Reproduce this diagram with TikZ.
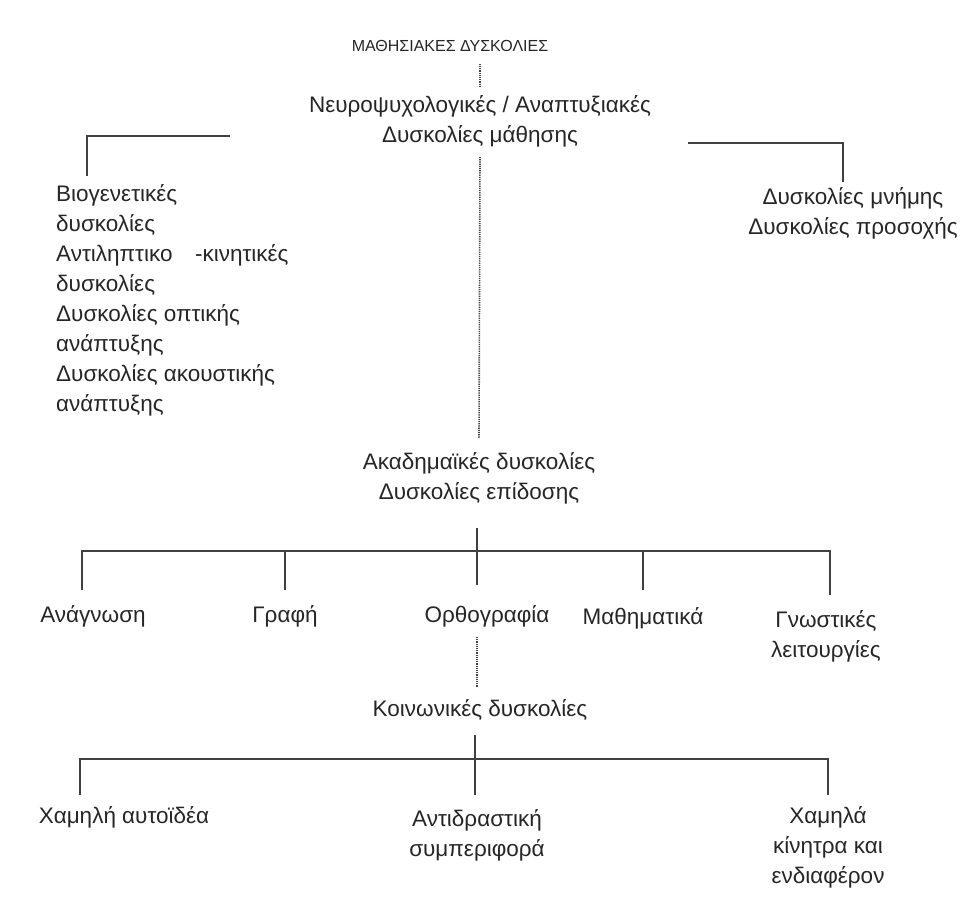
\documentclass[tikz,border=0pt]{standalone}
\usepackage{fontspec}
\setmainfont{Liberation Sans}
\usetikzlibrary{positioning}

\begin{document}
\begin{tikzpicture}[x=1pt, y=-1pt,
    every node/.style={inner sep=0pt, text=black!85, font=\fontsize{22.5}{30}\selectfont},
    lbl/.style={align=center},
    lst/.style={align=left, anchor=north west},
    bar/.style={line width=1.8pt, draw=black!75},
    dotline/.style={line width=1.6pt, draw=black!75, dash pattern=on 1.2pt off 1pt}]
        \useasboundingbox (0,0) rectangle (961,898);
        % top of the tree
        \node[font=\fontsize{16}{18}\selectfont] (title) at (450,46) {ΜΑΘΗΣΙΑΚΕΣ ΔΥΣΚΟΛΙΕΣ};
        \node[lbl] (neuro)    at (480,121) {Νευροψυχολογικές / Αναπτυξιακές\\Δυσκολίες μάθησης};
        \node[lst] (biogen)   at (56,184)  {Βιογενετικές\\δυσκολίες\\Αντιληπτικο\quad -κινητικές\\δυσκολίες\\Δυσκολίες οπτικής\\ανάπτυξης\\Δυσκολίες ακουστικής\\ανάπτυξης};
        \node[lbl] (memory)   at (853,213) {Δυσκολίες μνήμης\\Δυσκολίες προσοχής};
        \node[lbl] (academic) at (479,478) {Ακαδημαϊκές δυσκολίες\\Δυσκολίες επίδοσης};
        % academic branches
        \node      (reading)  at (93,616)  {Ανάγνωση};
        \node      (writing)  at (285,616) {Γραφή};
        \node      (spelling) at (487,616) {Ορθογραφία};
        \node      (maths)    at (643,618) {Μαθηματικά};
        \node[lbl] (cognit)   at (826,636) {Γνωστικές\\λειτουργίες};
        % social branches
        \node      (social)   at (480,710) {Κοινωνικές δυσκολίες};
        \node      (selfimg)  at (124,817) {Χαμηλή αυτοϊδέα};
        \node[lbl] (reactive) at (477,835) {Αντιδραστική\\συμπεριφορά};
        \node[lbl] (motive)   at (828,847) {Χαμηλά\\κίνητρα και\\ενδιαφέρον};

        \coordinate (ltop) at (230,136);
        \coordinate (lend) at (87,176);
        \coordinate (rtop) at (688,143);
        \coordinate (rend) at (843,182);
        \coordinate (acbus) at (477,551);
        \coordinate (sobus) at (475,759);

        \draw[dotline] ([yshift=-12pt]title.south -| neuro) -- ([yshift=8pt]neuro.north);
        \draw[dotline] ([yshift=-10pt]neuro.south) -- ([yshift=14pt]academic.north);
        \draw[dotline] ([yshift=-10pt]spelling.south -| acbus) -- ([yshift=12pt]social.north -| acbus);
        \draw[bar] (ltop) -| (lend);
        \draw[bar] (rtop) -| (rend);

        % academic bus
        \draw[bar] ([yshift=-24pt]academic.south -| acbus) -- ([yshift=20pt]spelling.north -| acbus);
        \draw[bar] (82,590) |- (acbus) -| (830,595);
        \foreach \bx in {285,643}
          \draw[bar] (\bx,551) -- (\bx,590);

        % social bus
        \draw[bar] ([yshift=-14pt]social.south -| sobus) -- ([yshift=14pt]reactive.north -| sobus);
        \draw[bar] (80,795) |- (sobus) -| (828,795);
\end{tikzpicture}
\end{document}
